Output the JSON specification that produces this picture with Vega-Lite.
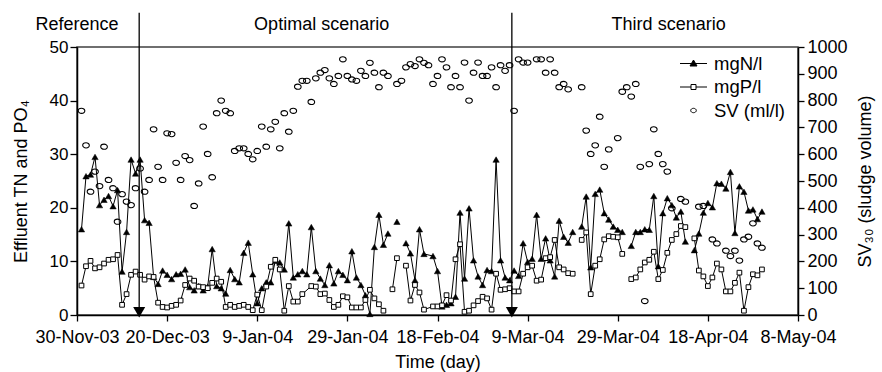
{
  "$schema": "https://vega.github.io/schema/vega-lite/v6.json",
  "width": 721,
  "height": 268,
  "autosize": {"type": "none"},
  "padding": {"left": 77, "top": 47, "right": 84, "bottom": 57},
  "background": "white",
  "config": {
    "view": {"stroke": "#404040", "strokeWidth": 1.5},
    "font": "Liberation Sans",
    "axis": {
      "labelFont": "Liberation Sans", "titleFont": "Liberation Sans",
      "labelColor": "black", "titleColor": "black",
      "domainColor": "black", "tickColor": "black",
      "grid": false, "titleFontWeight": "normal",
      "labelFontSize": 18, "titleFontSize": 18,
      "domainWidth": 1.5, "tickWidth": 1.3
    },
    "axisX": {"format": "%-d-%b-%y", "formatType": "utc"}
  },
  "datasets": {
    "tn": [
      {"date":"2003-12-01","v":16.0,"seg":1},{"date":"2003-12-02","v":25.9,"seg":1},{"date":"2003-12-03","v":26.2,"seg":1},{"date":"2003-12-04","v":29.5,"seg":1},{"date":"2003-12-05","v":20.5,"seg":1},{"date":"2003-12-06","v":21.5,"seg":1},{"date":"2003-12-07","v":22.2,"seg":1},{"date":"2003-12-08","v":20.3,"seg":1},{"date":"2003-12-09","v":23.3,"seg":1},{"date":"2003-12-10","v":8.1,"seg":1},
      {"date":"2003-12-11","v":15.5,"seg":1},{"date":"2003-12-12","v":29.0,"seg":1},{"date":"2003-12-13","v":26.4,"seg":1},{"date":"2003-12-14","v":29.0,"seg":1},{"date":"2003-12-15","v":17.7,"seg":1},{"date":"2003-12-16","v":17.2,"seg":1},{"date":"2003-12-17","v":7.1,"seg":1},{"date":"2003-12-18","v":5.8,"seg":1},{"date":"2003-12-19","v":8.3,"seg":1},{"date":"2003-12-20","v":7.5,"seg":1},
      {"date":"2003-12-21","v":6.7,"seg":1},{"date":"2003-12-22","v":7.6,"seg":1},{"date":"2003-12-23","v":7.7,"seg":1},{"date":"2003-12-24","v":8.5,"seg":1},{"date":"2003-12-25","v":5.2,"seg":1},{"date":"2003-12-26","v":4.6,"seg":1},{"date":"2003-12-27","v":5.4,"seg":1},{"date":"2003-12-28","v":4.6,"seg":1},{"date":"2003-12-29","v":5.3,"seg":1},{"date":"2003-12-30","v":12.3,"seg":1},
      {"date":"2003-12-31","v":5.4,"seg":1},{"date":"2004-01-01","v":5.0,"seg":1},{"date":"2004-01-02","v":4.0,"seg":1},{"date":"2004-01-03","v":8.4,"seg":1},{"date":"2004-01-04","v":6.7,"seg":1},{"date":"2004-01-05","v":6.1,"seg":1},{"date":"2004-01-06","v":11.6,"seg":1},{"date":"2004-01-07","v":13.5,"seg":1},{"date":"2004-01-08","v":7.6,"seg":1},{"date":"2004-01-09","v":2.2,"seg":1},
      {"date":"2004-01-10","v":5.0,"seg":1},{"date":"2004-01-11","v":6.1,"seg":1},{"date":"2004-01-12","v":6.1,"seg":1},{"date":"2004-01-13","v":10.1,"seg":1},{"date":"2004-01-14","v":9.8,"seg":1},{"date":"2004-01-15","v":8.5,"seg":1},{"date":"2004-01-16","v":17.1,"seg":1},{"date":"2004-01-17","v":7.0,"seg":1},{"date":"2004-01-18","v":7.6,"seg":1},{"date":"2004-01-19","v":8.2,"seg":1},
      {"date":"2004-01-20","v":7.6,"seg":1},{"date":"2004-01-21","v":16.4,"seg":1},{"date":"2004-01-22","v":8.2,"seg":1},{"date":"2004-01-23","v":6.8,"seg":1},{"date":"2004-01-24","v":5.6,"seg":1},{"date":"2004-01-25","v":9.3,"seg":1},{"date":"2004-01-26","v":5.9,"seg":1},{"date":"2004-01-27","v":8.2,"seg":1},{"date":"2004-01-28","v":7.5,"seg":1},{"date":"2004-01-29","v":6.5,"seg":1},
      {"date":"2004-01-30","v":11.9,"seg":1},{"date":"2004-01-31","v":7.0,"seg":1},{"date":"2004-02-01","v":5.6,"seg":1},{"date":"2004-02-02","v":3.7,"seg":1},{"date":"2004-02-03","v":0.2,"seg":1},{"date":"2004-02-04","v":12.7,"seg":1},{"date":"2004-02-05","v":18.7,"seg":1},{"date":"2004-02-06","v":13.1,"seg":1},{"date":"2004-02-07","v":15.2,"seg":1},
      {"date":"2004-02-09","v":17.4,"seg":2},
      {"date":"2004-02-11","v":13.4,"seg":3},{"date":"2004-02-12","v":11.5,"seg":3},{"date":"2004-02-13","v":6.5,"seg":3},{"date":"2004-02-14","v":16.0,"seg":3},{"date":"2004-02-15","v":11.4,"seg":3},{"date":"2004-02-17","v":11.0,"seg":3},{"date":"2004-02-18","v":8.2,"seg":3},{"date":"2004-02-19","v":1.6,"seg":3},{"date":"2004-02-20","v":1.9,"seg":3},{"date":"2004-02-21","v":2.2,"seg":3},
      {"date":"2004-02-22","v":3.4,"seg":3},{"date":"2004-02-23","v":19.1,"seg":3},{"date":"2004-02-24","v":6.8,"seg":3},{"date":"2004-02-25","v":19.9,"seg":3},{"date":"2004-02-26","v":10.2,"seg":3},{"date":"2004-02-27","v":7.2,"seg":3},{"date":"2004-02-28","v":5.6,"seg":3},{"date":"2004-02-29","v":8.4,"seg":3},{"date":"2004-03-01","v":8.2,"seg":3},{"date":"2004-03-02","v":29.0,"seg":3},
      {"date":"2004-03-03","v":10.2,"seg":3},{"date":"2004-03-04","v":7.0,"seg":3},{"date":"2004-03-05","v":6.5,"seg":3},{"date":"2004-03-06","v":8.3,"seg":3},{"date":"2004-03-07","v":7.3,"seg":3},{"date":"2004-03-08","v":13.4,"seg":3},{"date":"2004-03-09","v":9.9,"seg":3},{"date":"2004-03-10","v":10.5,"seg":3},{"date":"2004-03-11","v":18.7,"seg":3},{"date":"2004-03-12","v":10.5,"seg":3},
      {"date":"2004-03-13","v":14.3,"seg":3},{"date":"2004-03-14","v":10.2,"seg":3},{"date":"2004-03-15","v":7.2,"seg":3},{"date":"2004-03-16","v":17.6,"seg":3},{"date":"2004-03-17","v":14.6,"seg":3},{"date":"2004-03-18","v":13.5,"seg":3},{"date":"2004-03-19","v":15.5,"seg":3},
      {"date":"2004-03-21","v":16.5,"seg":4},{"date":"2004-03-22","v":22.1,"seg":4},{"date":"2004-03-23","v":8.9,"seg":4},{"date":"2004-03-24","v":22.6,"seg":4},{"date":"2004-03-25","v":23.4,"seg":4},{"date":"2004-03-26","v":19.0,"seg":4},{"date":"2004-03-27","v":17.8,"seg":4},{"date":"2004-03-28","v":16.5,"seg":4},{"date":"2004-03-29","v":15.9,"seg":4},{"date":"2004-03-30","v":15.5,"seg":4},
      {"date":"2004-04-01","v":12.9,"seg":5},{"date":"2004-04-02","v":15.5,"seg":5},{"date":"2004-04-03","v":15.5,"seg":5},{"date":"2004-04-04","v":16.0,"seg":5},{"date":"2004-04-05","v":15.9,"seg":5},{"date":"2004-04-06","v":22.2,"seg":5},{"date":"2004-04-07","v":9.1,"seg":5},{"date":"2004-04-08","v":19.0,"seg":5},{"date":"2004-04-09","v":21.8,"seg":5},{"date":"2004-04-10","v":20.5,"seg":5},
      {"date":"2004-04-11","v":18.2,"seg":5},{"date":"2004-04-12","v":19.3,"seg":5},{"date":"2004-04-13","v":13.7,"seg":5},
      {"date":"2004-04-15","v":12.1,"seg":6},{"date":"2004-04-16","v":15.2,"seg":6},{"date":"2004-04-17","v":19.1,"seg":6},{"date":"2004-04-18","v":20.9,"seg":6},{"date":"2004-04-19","v":20.1,"seg":6},{"date":"2004-04-20","v":24.6,"seg":6},{"date":"2004-04-21","v":24.5,"seg":6},{"date":"2004-04-22","v":23.6,"seg":6},{"date":"2004-04-23","v":26.7,"seg":6},{"date":"2004-04-24","v":15.3,"seg":6},
      {"date":"2004-04-25","v":24.0,"seg":6},{"date":"2004-04-26","v":23.0,"seg":6},{"date":"2004-04-27","v":19.5,"seg":6},{"date":"2004-04-28","v":19.7,"seg":6},{"date":"2004-04-29","v":17.9,"seg":6},{"date":"2004-04-30","v":19.3,"seg":6}
    ],
    "tp": [
      {"date":"2003-12-01","v":5.5,"seg":1},{"date":"2003-12-02","v":9.1,"seg":1},{"date":"2003-12-03","v":10.1,"seg":1},{"date":"2003-12-04","v":8.7,"seg":1},{"date":"2003-12-05","v":8.9,"seg":1},{"date":"2003-12-06","v":9.6,"seg":1},{"date":"2003-12-07","v":10.3,"seg":1},{"date":"2003-12-08","v":10.4,"seg":1},{"date":"2003-12-09","v":11.2,"seg":1},{"date":"2003-12-10","v":1.9,"seg":1},
      {"date":"2003-12-11","v":3.9,"seg":1},{"date":"2003-12-12","v":7.5,"seg":1},{"date":"2003-12-13","v":8.1,"seg":1},{"date":"2003-12-14","v":7.5,"seg":1},{"date":"2003-12-15","v":6.6,"seg":1},{"date":"2003-12-16","v":7.2,"seg":1},{"date":"2003-12-17","v":7.1,"seg":1},{"date":"2003-12-18","v":2.3,"seg":1},{"date":"2003-12-19","v":1.5,"seg":1},{"date":"2003-12-20","v":1.4,"seg":1},
      {"date":"2003-12-21","v":1.7,"seg":1},{"date":"2003-12-22","v":1.9,"seg":1},{"date":"2003-12-23","v":2.7,"seg":1},{"date":"2003-12-24","v":5.6,"seg":1},{"date":"2003-12-25","v":6.8,"seg":1},{"date":"2003-12-26","v":6.4,"seg":1},{"date":"2003-12-27","v":5.3,"seg":1},{"date":"2003-12-28","v":5.2,"seg":1},{"date":"2003-12-29","v":5.0,"seg":1},{"date":"2003-12-30","v":6.0,"seg":1},
      {"date":"2003-12-31","v":6.8,"seg":1},{"date":"2004-01-01","v":6.2,"seg":1},{"date":"2004-01-02","v":1.5,"seg":1},{"date":"2004-01-03","v":1.9,"seg":1},{"date":"2004-01-04","v":1.5,"seg":1},{"date":"2004-01-05","v":1.7,"seg":1},{"date":"2004-01-06","v":1.9,"seg":1},{"date":"2004-01-07","v":1.5,"seg":1},{"date":"2004-01-08","v":0.9,"seg":1},{"date":"2004-01-09","v":3.8,"seg":1},
      {"date":"2004-01-10","v":0.9,"seg":1},{"date":"2004-01-11","v":5.3,"seg":1},{"date":"2004-01-12","v":9.0,"seg":1},{"date":"2004-01-13","v":10.3,"seg":1},{"date":"2004-01-14","v":8.5,"seg":1},{"date":"2004-01-15","v":0.8,"seg":1},{"date":"2004-01-16","v":5.4,"seg":1},{"date":"2004-01-17","v":2.5,"seg":1},{"date":"2004-01-18","v":2.5,"seg":1},{"date":"2004-01-19","v":3.9,"seg":1},
      {"date":"2004-01-21","v":5.4,"seg":1},{"date":"2004-01-22","v":5.3,"seg":1},{"date":"2004-01-23","v":3.9,"seg":1},{"date":"2004-01-24","v":4.0,"seg":1},{"date":"2004-01-25","v":2.8,"seg":1},{"date":"2004-01-26","v":1.5,"seg":1},{"date":"2004-01-27","v":1.9,"seg":1},{"date":"2004-01-28","v":3.5,"seg":1},{"date":"2004-01-29","v":3.3,"seg":1},{"date":"2004-01-30","v":1.4,"seg":1},
      {"date":"2004-01-31","v":1.4,"seg":1},{"date":"2004-02-01","v":1.4,"seg":1},{"date":"2004-02-02","v":2.8,"seg":1},{"date":"2004-02-03","v":4.7,"seg":1},{"date":"2004-02-04","v":3.1,"seg":1},{"date":"2004-02-05","v":2.0,"seg":1},{"date":"2004-02-06","v":0.8,"seg":1},
      {"date":"2004-02-08","v":4.8,"seg":2},{"date":"2004-02-09","v":10.6,"seg":2},
      {"date":"2004-02-11","v":9.2,"seg":3},{"date":"2004-02-12","v":2.7,"seg":3},{"date":"2004-02-13","v":5.6,"seg":3},{"date":"2004-02-14","v":4.2,"seg":3},{"date":"2004-02-15","v":1.0,"seg":3},{"date":"2004-02-17","v":1.6,"seg":3},{"date":"2004-02-18","v":1.6,"seg":3},{"date":"2004-02-19","v":1.8,"seg":3},{"date":"2004-02-20","v":3.7,"seg":3},{"date":"2004-02-21","v":2.7,"seg":3},
      {"date":"2004-02-22","v":10.4,"seg":3},{"date":"2004-02-23","v":13.2,"seg":3},{"date":"2004-02-24","v":0.6,"seg":3},{"date":"2004-02-25","v":0.8,"seg":3},{"date":"2004-02-26","v":1.8,"seg":3},{"date":"2004-02-27","v":2.6,"seg":3},{"date":"2004-02-28","v":3.4,"seg":3},{"date":"2004-02-29","v":3.1,"seg":3},{"date":"2004-03-01","v":1.0,"seg":3},{"date":"2004-03-02","v":7.7,"seg":3},
      {"date":"2004-03-03","v":4.7,"seg":3},{"date":"2004-03-04","v":4.8,"seg":3},{"date":"2004-03-05","v":5.0,"seg":3},{"date":"2004-03-06","v":4.4,"seg":3},{"date":"2004-03-07","v":4.4,"seg":3},{"date":"2004-03-08","v":7.7,"seg":3},{"date":"2004-03-09","v":8.9,"seg":3},{"date":"2004-03-10","v":9.2,"seg":3},{"date":"2004-03-11","v":6.4,"seg":3},{"date":"2004-03-12","v":6.6,"seg":3},
      {"date":"2004-03-13","v":10.6,"seg":3},{"date":"2004-03-14","v":10.8,"seg":3},{"date":"2004-03-15","v":14.0,"seg":3},{"date":"2004-03-16","v":8.9,"seg":3},{"date":"2004-03-17","v":8.5,"seg":3},{"date":"2004-03-18","v":7.8,"seg":3},{"date":"2004-03-19","v":7.7,"seg":3},
      {"date":"2004-03-21","v":14.0,"seg":4},{"date":"2004-03-22","v":15.4,"seg":4},{"date":"2004-03-23","v":3.9,"seg":4},{"date":"2004-03-24","v":9.2,"seg":4},{"date":"2004-03-25","v":10.4,"seg":4},{"date":"2004-03-26","v":14.1,"seg":4},{"date":"2004-03-27","v":14.7,"seg":4},{"date":"2004-03-28","v":14.6,"seg":4},{"date":"2004-03-29","v":14.5,"seg":4},{"date":"2004-03-30","v":11.4,"seg":4},
      {"date":"2004-04-01","v":6.7,"seg":5},{"date":"2004-04-02","v":7.0,"seg":5},{"date":"2004-04-03","v":8.5,"seg":5},{"date":"2004-04-04","v":9.8,"seg":5},{"date":"2004-04-05","v":10.3,"seg":5},{"date":"2004-04-06","v":11.8,"seg":5},{"date":"2004-04-07","v":6.7,"seg":5},{"date":"2004-04-08","v":8.4,"seg":5},{"date":"2004-04-09","v":11.6,"seg":5},{"date":"2004-04-10","v":14.0,"seg":5},
      {"date":"2004-04-11","v":15.1,"seg":5},{"date":"2004-04-12","v":16.6,"seg":5},{"date":"2004-04-13","v":16.4,"seg":5},
      {"date":"2004-04-15","v":14.3,"seg":6},{"date":"2004-04-16","v":8.3,"seg":6},{"date":"2004-04-17","v":7.2,"seg":6},{"date":"2004-04-18","v":5.4,"seg":6},{"date":"2004-04-19","v":7.0,"seg":6},{"date":"2004-04-20","v":9.6,"seg":6},{"date":"2004-04-21","v":8.5,"seg":6},{"date":"2004-04-22","v":4.4,"seg":6},{"date":"2004-04-23","v":4.4,"seg":6},{"date":"2004-04-24","v":6.0,"seg":6},
      {"date":"2004-04-25","v":7.9,"seg":6},{"date":"2004-04-26","v":0.8,"seg":6},{"date":"2004-04-27","v":5.2,"seg":6},{"date":"2004-04-28","v":7.6,"seg":6},{"date":"2004-04-29","v":7.4,"seg":6},{"date":"2004-04-30","v":8.5,"seg":6}
    ],
    "sv": [
      {"date":"2003-12-01","v":762},{"date":"2003-12-02","v":633},{"date":"2003-12-03","v":460},{"date":"2003-12-04","v":535},{"date":"2003-12-05","v":481},{"date":"2003-12-06","v":628},{"date":"2003-12-07","v":504},{"date":"2003-12-08","v":473},{"date":"2003-12-09","v":348},{"date":"2003-12-10","v":451},
      {"date":"2003-12-11","v":423},{"date":"2003-12-12","v":410},{"date":"2003-12-13","v":473},{"date":"2003-12-14","v":547},{"date":"2003-12-15","v":460},{"date":"2003-12-16","v":504},{"date":"2003-12-17","v":693},{"date":"2003-12-18","v":553},{"date":"2003-12-19","v":504},{"date":"2003-12-20","v":678},
      {"date":"2003-12-21","v":675},{"date":"2003-12-22","v":568},{"date":"2003-12-23","v":504},{"date":"2003-12-24","v":593},{"date":"2003-12-25","v":578},{"date":"2003-12-26","v":407},{"date":"2003-12-27","v":491},{"date":"2003-12-28","v":703},{"date":"2003-12-29","v":601},{"date":"2003-12-30","v":514},
      {"date":"2003-12-31","v":753},{"date":"2004-01-01","v":800},{"date":"2004-01-02","v":762},{"date":"2004-01-03","v":753},{"date":"2004-01-04","v":612},{"date":"2004-01-05","v":622},{"date":"2004-01-06","v":622},{"date":"2004-01-07","v":601},{"date":"2004-01-08","v":581},{"date":"2004-01-09","v":612},
      {"date":"2004-01-10","v":703},{"date":"2004-01-11","v":628},{"date":"2004-01-12","v":693},{"date":"2004-01-13","v":721},{"date":"2004-01-14","v":622},{"date":"2004-01-15","v":753},{"date":"2004-01-16","v":684},{"date":"2004-01-17","v":762},{"date":"2004-01-18","v":852},{"date":"2004-01-19","v":874},
      {"date":"2004-01-20","v":874},{"date":"2004-01-21","v":795},{"date":"2004-01-22","v":883},{"date":"2004-01-23","v":904},{"date":"2004-01-24","v":914},{"date":"2004-01-25","v":883},{"date":"2004-01-26","v":862},{"date":"2004-01-27","v":892},{"date":"2004-01-28","v":954},{"date":"2004-01-29","v":892},
      {"date":"2004-01-30","v":879},{"date":"2004-01-31","v":874},{"date":"2004-02-01","v":911},{"date":"2004-02-02","v":892},{"date":"2004-02-03","v":941},{"date":"2004-02-04","v":904},{"date":"2004-02-05","v":850},{"date":"2004-02-06","v":904},{"date":"2004-02-07","v":892},{"date":"2004-02-09","v":862},
      {"date":"2004-02-10","v":874},{"date":"2004-02-11","v":924},{"date":"2004-02-12","v":936},{"date":"2004-02-13","v":929},{"date":"2004-02-14","v":954},{"date":"2004-02-15","v":941},{"date":"2004-02-16","v":932},{"date":"2004-02-17","v":862},{"date":"2004-02-18","v":892},{"date":"2004-02-19","v":954},
      {"date":"2004-02-20","v":924},{"date":"2004-02-21","v":850},{"date":"2004-02-22","v":892},{"date":"2004-02-23","v":850},{"date":"2004-02-24","v":942},{"date":"2004-02-25","v":800},{"date":"2004-02-26","v":904},{"date":"2004-02-27","v":942},{"date":"2004-02-28","v":892},{"date":"2004-02-29","v":892},
      {"date":"2004-03-01","v":924},{"date":"2004-03-02","v":850},{"date":"2004-03-03","v":932},{"date":"2004-03-04","v":911},{"date":"2004-03-05","v":932},{"date":"2004-03-06","v":762},{"date":"2004-03-07","v":954},{"date":"2004-03-08","v":942},{"date":"2004-03-09","v":942},{"date":"2004-03-11","v":954},
      {"date":"2004-03-12","v":954},{"date":"2004-03-13","v":904},{"date":"2004-03-14","v":954},{"date":"2004-03-15","v":904},{"date":"2004-03-16","v":850},{"date":"2004-03-17","v":862},{"date":"2004-03-18","v":842},{"date":"2004-03-21","v":850},{"date":"2004-03-22","v":688},{"date":"2004-03-23","v":601},
      {"date":"2004-03-24","v":633},{"date":"2004-03-25","v":740},{"date":"2004-03-26","v":553},{"date":"2004-03-27","v":618},{"date":"2004-03-29","v":660},{"date":"2004-03-30","v":833},{"date":"2004-03-31","v":850},{"date":"2004-04-01","v":815},{"date":"2004-04-02","v":862},{"date":"2004-04-03","v":553},
      {"date":"2004-04-04","v":52},{"date":"2004-04-05","v":563},{"date":"2004-04-06","v":693},{"date":"2004-04-07","v":601},{"date":"2004-04-08","v":563},{"date":"2004-04-09","v":535},{"date":"2004-04-10","v":398},{"date":"2004-04-12","v":433},{"date":"2004-04-13","v":423},{"date":"2004-04-16","v":404},
      {"date":"2004-04-17","v":407},{"date":"2004-04-19","v":282},{"date":"2004-04-20","v":267},{"date":"2004-04-22","v":240},{"date":"2004-04-23","v":220},{"date":"2004-04-24","v":240},{"date":"2004-04-25","v":203},{"date":"2004-04-26","v":282},{"date":"2004-04-27","v":292},{"date":"2004-04-28","v":342},
      {"date":"2004-04-29","v":267},{"date":"2004-04-30","v":251}
    ],
    "events": [
      {"date":"2003-12-13T19:12:00Z"},
      {"date":"2004-03-05T12:00:00Z"}
    ],
    "regions": [
      {"date":"2003-11-30","label":"Reference"},
      {"date":"2004-01-23T07:00:00Z","label":"Optimal scenario"},
      {"date":"2004-04-09T07:00:00Z","label":"Third scenario"}
    ],
    "legenditems": [
      {"series":"mgN/l"},
      {"series":"mgP/l"},
      {"series":"SV (ml/l)"}
    ]
  },
  "resolve": {"scale": {"y": "independent"}},
  "layer": [
    {
      "layer": [
        {
          "data": {"name": "tn"},
          "mark": {"type": "line", "color": "black", "strokeWidth": 1},
          "encoding": {
            "x": {
              "field": "date", "type": "temporal",
              "scale": {"type": "utc", "domain": [{"year":2003,"month":11,"date":30,"utc":true},{"year":2004,"month":5,"date":8,"utc":true}]},
              "axis": {
                "title": "Time (day)",
                "values": [
                  {"year":2003,"month":11,"date":30,"utc":true},
                  {"year":2003,"month":12,"date":20,"utc":true},
                  {"year":2004,"month":1,"date":9,"utc":true},
                  {"year":2004,"month":1,"date":29,"utc":true},
                  {"year":2004,"month":2,"date":18,"utc":true},
                  {"year":2004,"month":3,"date":9,"utc":true},
                  {"year":2004,"month":3,"date":29,"utc":true},
                  {"year":2004,"month":4,"date":18,"utc":true},
                  {"year":2004,"month":5,"date":8,"utc":true}
                ],
                "format": "%-d-%b-%y", "formatType": "utc",
                "tickSize": 6, "labelPadding": 7, "titlePadding": 7,
                "labelFlush": false, "labelOverlap": false
              }
            },
            "y": {
              "field": "v", "type": "quantitative",
              "scale": {"domain": [0, 50], "nice": false, "zero": true},
              "axis": {
                "title": "Effluent TN  and PO₄",
                "values": [0,5,10,15,20,25,30,35,40,45,50],
                "tickSize": 7, "labelPadding": 2, "labelFontSize": 17, "titlePadding": 19
              }
            },
            "detail": {"field": "seg", "type": "nominal"}
          }
        },
        {
          "data": {"name": "tp"},
          "mark": {"type": "line", "color": "black", "strokeWidth": 1},
          "encoding": {
            "x": {"field": "date", "type": "temporal"},
            "y": {"field": "v", "type": "quantitative"},
            "detail": {"field": "seg", "type": "nominal"}
          }
        },
        {
          "data": {"name": "tn"},
          "mark": {"type": "point", "shape": "triangle-up", "filled": true, "fill": "black", "stroke": "black", "strokeWidth": 0.5, "size": 40, "opacity": 1},
          "encoding": {
            "x": {"field": "date", "type": "temporal"},
            "y": {"field": "v", "type": "quantitative"}
          }
        },
        {
          "data": {"name": "tp"},
          "mark": {"type": "point", "shape": "square", "filled": true, "fill": "white", "stroke": "black", "strokeWidth": 1, "size": 22, "opacity": 1},
          "encoding": {
            "x": {"field": "date", "type": "temporal"},
            "y": {"field": "v", "type": "quantitative"}
          }
        },
        {
          "data": {"name": "events"},
          "mark": {"type": "rule", "color": "black", "strokeWidth": 1.3},
          "encoding": {
            "x": {"field": "date", "type": "temporal"},
            "y": {"datum": 0},
            "y2": {"datum": 56.4}
          }
        },
        {
          "data": {"name": "events"},
          "mark": {"type": "point", "shape": "triangle-down", "filled": true, "color": "black", "size": 144, "opacity": 1},
          "encoding": {
            "x": {"field": "date", "type": "temporal"},
            "y": {"datum": 0.5}
          }
        },
        {
          "data": {"name": "regions"},
          "mark": {"type": "text", "font": "Liberation Sans", "fontSize": 18, "color": "black", "baseline": "alphabetic", "align": "center", "dy": -17},
          "encoding": {
            "x": {"field": "date", "type": "temporal"},
            "y": {"datum": 50},
            "text": {"field": "label", "type": "nominal"}
          }
        }
      ]
    },
    {
      "data": {"name": "sv"},
      "mark": {"type": "point", "shape": "M1,0A1,0.78,0,1,1,-1,0A1,0.78,0,1,1,1,0Z", "filled": false, "stroke": "black", "strokeWidth": 1.1, "size": 44, "opacity": 1},
      "encoding": {
        "x": {
          "field": "date", "type": "temporal",
          "axis": {
            "title": "Time (day)",
            "values": [
              {"year":2003,"month":11,"date":30,"utc":true},
              {"year":2003,"month":12,"date":20,"utc":true},
              {"year":2004,"month":1,"date":9,"utc":true},
              {"year":2004,"month":1,"date":29,"utc":true},
              {"year":2004,"month":2,"date":18,"utc":true},
              {"year":2004,"month":3,"date":9,"utc":true},
              {"year":2004,"month":3,"date":29,"utc":true},
              {"year":2004,"month":4,"date":18,"utc":true},
              {"year":2004,"month":5,"date":8,"utc":true}
            ],
            "format": "%-d-%b-%y", "formatType": "utc",
            "tickSize": 6, "labelPadding": 7, "titlePadding": 7,
            "labelFlush": false, "labelOverlap": false
          }
        },
        "y": {
          "field": "v", "type": "quantitative",
          "scale": {"domain": [0, 1000], "nice": false, "zero": true},
          "axis": {
            "orient": "right", "title": "SV₃₀ (sludge volume)",
            "values": [0,100,200,300,400,500,600,700,800,900,1000],
            "format": "d",
            "tickSize": 6, "labelPadding": 3, "titleAngle": 270, "titleBaseline": "top", "titlePadding": 9
          }
        }
      }
    },
    {
      "data": {"name": "legenditems"},
      "mark": {"type": "point", "filled": true, "strokeWidth": 1, "opacity": 0},
      "encoding": {
        "shape": {
          "field": "series", "type": "nominal",
          "scale": {"domain": ["mgN/l", "mgP/l", "SV (ml/l)"], "range": ["M-1.35,0H1.35M0,-0.35L0.35,0.25L-0.35,0.25Z", "M-1.35,0H-0.25M0.25,0H1.35M-0.25,-0.25H0.25V0.25H-0.25Z", "M0.28,0A0.28,0.22,0,1,1,-0.28,0A0.28,0.22,0,1,1,0.28,0Z"]},
          "legend": {
            "title": null, "orient": "none", "legendX": 606, "legendY": 6, "padding": 0,
            "symbolSize": 400, "labelFont": "Liberation Sans", "labelFontSize": 18.5, "labelColor": "black",
            "labelOffset": 10, "rowPadding": 3.5, "symbolStrokeWidth": 1, "symbolOpacity": 1
          }
        },
        "fill": {
          "field": "series", "type": "nominal",
          "scale": {"domain": ["mgN/l", "mgP/l", "SV (ml/l)"], "range": ["black", "white", "white"]},
          "legend": {
            "title": null, "orient": "none", "legendX": 606, "legendY": 6, "padding": 0,
            "symbolSize": 400, "labelFont": "Liberation Sans", "labelFontSize": 18.5, "labelColor": "black",
            "labelOffset": 10, "rowPadding": 3.5, "symbolStrokeWidth": 1, "symbolOpacity": 1
          }
        },
        "stroke": {
          "field": "series", "type": "nominal",
          "scale": {"domain": ["mgN/l", "mgP/l", "SV (ml/l)"], "range": ["black", "black", "black"]},
          "legend": {
            "title": null, "orient": "none", "legendX": 606, "legendY": 6, "padding": 0,
            "symbolSize": 400, "labelFont": "Liberation Sans", "labelFontSize": 18.5, "labelColor": "black",
            "labelOffset": 10, "rowPadding": 3.5, "symbolStrokeWidth": 1, "symbolOpacity": 1
          }
        }
      }
    }
  ]
}
